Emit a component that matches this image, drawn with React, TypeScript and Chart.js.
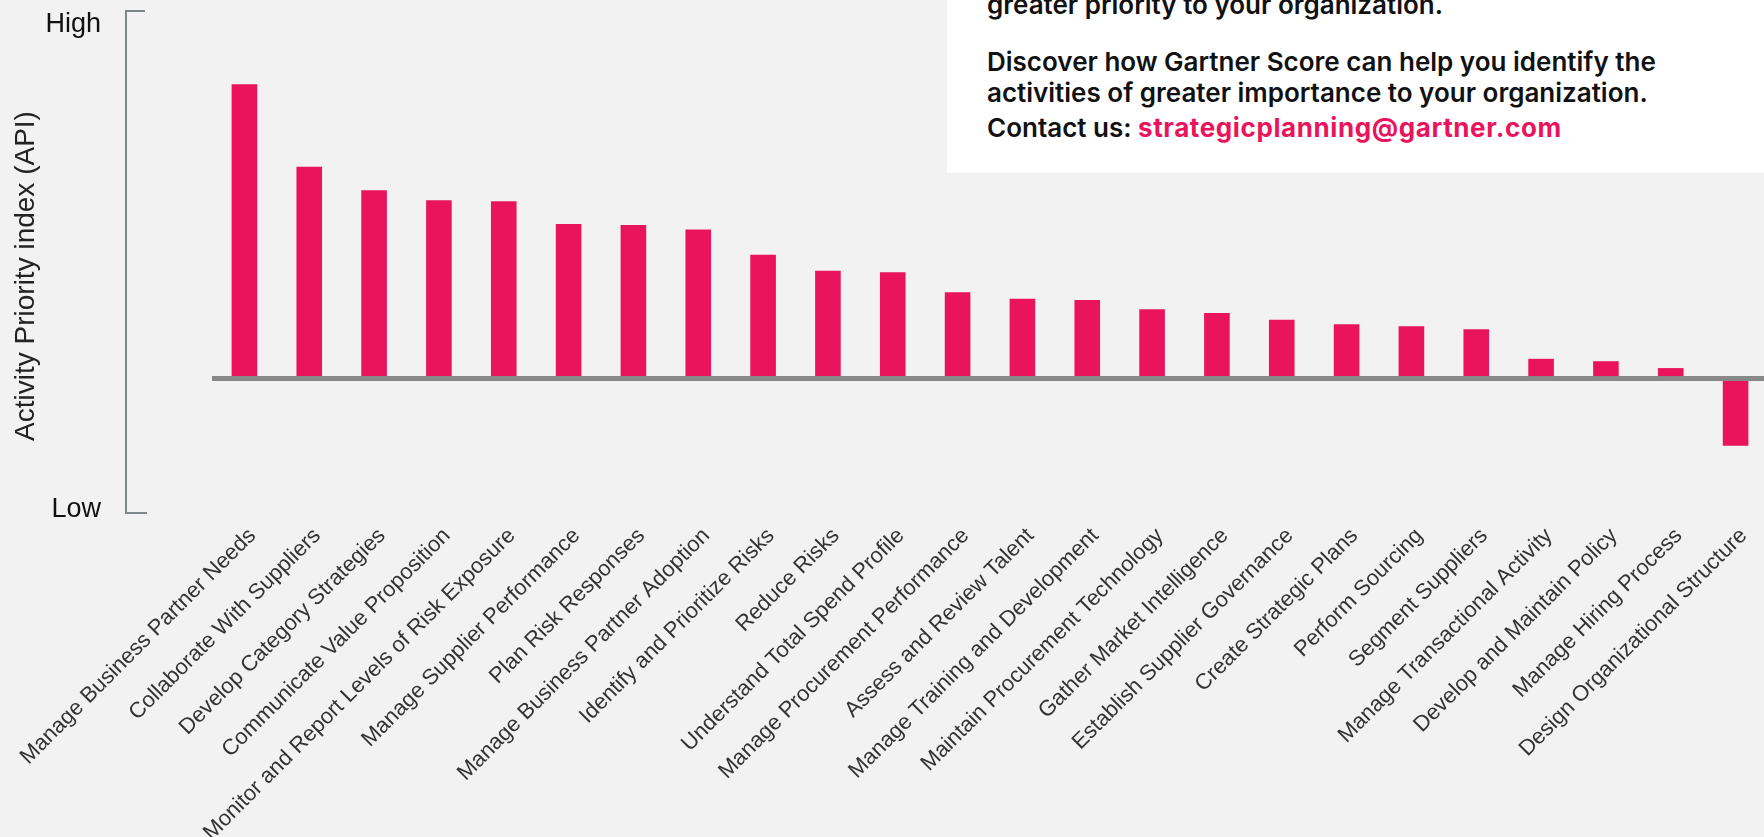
import React, { useEffect, useRef } from 'react';
import { Chart, registerables } from 'chart.js';

Chart.register(...registerables);

const categories: string[] = [
  'Manage Business Partner Needs',
  'Collaborate With Suppliers',
  'Develop Category Strategies',
  'Communicate Value Proposition',
  'Monitor and Report Levels of Risk Exposure',
  'Manage Supplier Performance',
  'Plan Risk Responses',
  'Manage Business Partner Adoption',
  'Identify and Prioritize Risks',
  'Reduce Risks',
  'Understand Total Spend Profile',
  'Manage Procurement Performance',
  'Assess and Review Talent',
  'Manage Training and Development',
  'Maintain Procurement Technology',
  'Gather Market Intelligence',
  'Establish Supplier Governance',
  'Create Strategic Plans',
  'Perform Sourcing',
  'Segment Suppliers',
  'Manage Transactional Activity',
  'Develop and Maintain Policy',
  'Manage Hiring Process',
  'Design Organizational Structure',
];

const apiValues: number[] = [
  98.5, 70.9, 63.0, 59.7, 59.3, 51.7, 51.4, 49.9, 41.4, 36.1, 35.6, 28.9,
  26.7, 26.3, 23.2, 21.9, 19.7, 18.2, 17.5, 16.5, 6.6, 5.8, 3.5, -22.5,
];

const yTickValues: number[] = [-44, 0, 118.5];
const yTickLabels: string[] = ['Low', '', 'High'];
const yMin = -45;
const yMax = 123;
const yTitle = 'Activity Priority index (API)';

const PINK = '#e9145b';
const LABEL_FONT = '"Liberation Sans", Arial, Helvetica, sans-serif';

const bracketPlugin = {
  id: 'bracketAndTitle',
  afterDraw(chart: any) {
    const { ctx, chartArea } = chart;
    const top = chartArea.top;
    const bottom = chartArea.bottom;
    ctx.save();
    ctx.strokeStyle = '#7d8787';
    ctx.lineWidth = 2;
    ctx.beginPath();
    ctx.moveTo(145, top);
    ctx.lineTo(126, top);
    ctx.lineTo(126, bottom);
    ctx.lineTo(147, bottom);
    ctx.stroke();
    ctx.translate(26, 276);
    ctx.rotate(-Math.PI / 2);
    ctx.font = '28px ' + LABEL_FONT;
    ctx.fillStyle = '#222';
    ctx.textAlign = 'center';
    ctx.textBaseline = 'middle';
    ctx.fillText(yTitle, 0, 0);
    ctx.restore();
  },
};

function ApiChart() {
  const canvasRef = useRef<HTMLCanvasElement | null>(null);

  useEffect(() => {
    if (!canvasRef.current) return;
    const chart = new Chart(canvasRef.current, {
      type: 'bar',
      data: {
        labels: categories,
        datasets: [
          {
            data: apiValues,
            backgroundColor: PINK,
            borderWidth: 0,
            barPercentage: 0.395,
            categoryPercentage: 1,
          },
        ],
      },
      options: {
        animation: false,
        responsive: false,
        devicePixelRatio: 1,
        layout: { padding: { top: 11, left: 0, right: 0, bottom: 0 } },
        plugins: {
          legend: { display: false },
          tooltip: { enabled: false },
          title: { display: false },
        },
        scales: {
          x: {
            offset: true,
            grid: { display: false, drawTicks: false },
            border: { display: false },
            ticks: {
              autoSkip: false,
              maxRotation: 45,
              minRotation: 45,
              padding: 10,
              labelOffset: 8,
              color: '#333',
              font: { family: LABEL_FONT, size: 22 },
            },
            afterFit: (s: any) => {
              s.height = 324;
              s.paddingLeft = 0;
              s.paddingRight = 0;
            },
          },
          y: {
            min: yMin,
            max: yMax,
            z: 1,
            afterBuildTicks: (s: any) => {
              s.ticks = yTickValues.map((v) => ({ value: v }));
            },
            afterFit: (s: any) => {
              s.width = 212;
              s.paddingTop = 0;
              s.paddingBottom = 0;
            },
            grid: {
              drawTicks: false,
              color: (c: any) => (c.tick && c.tick.value === 0 ? '#888888' : 'rgba(0,0,0,0)'),
              lineWidth: (c: any) => (c.tick && c.tick.value === 0 ? 5 : 0),
            },
            border: { display: false },
            ticks: {
              padding: 111,
              color: '#111',
              font: { family: LABEL_FONT, size: 27 },
              callback: (_v: any, i: number) => yTickLabels[i],
            },
            title: { display: false },
          },
        },
      },
      plugins: [bracketPlugin],
    });
    return () => chart.destroy();
  }, []);

  return (
    <canvas
      ref={canvasRef}
      width={1768}
      height={837}
      style={{ position: 'absolute', left: 0, top: 0, width: 1768, height: 837, display: 'block' }}
    />
  );
}

const textStyle: React.CSSProperties = {
  position: 'absolute',
  left: 987,
  fontFamily: 'Inter, "Noto Sans", sans-serif',
  fontWeight: 600,
  fontSize: 26,
  lineHeight: '31px',
  color: '#111',
  whiteSpace: 'nowrap',
};

export default function App() {
  return (
    <div
      style={{
        position: 'fixed',
        left: 0,
        top: 0,
        width: 1764,
        height: 837,
        overflow: 'hidden',
        background: '#f2f2f2',
      }}
    >
      <ApiChart />
      <div style={{ position: 'absolute', left: 947, top: 0, width: 817, height: 173, background: '#ffffff' }} />
      <div style={{ ...textStyle, top: -11 }}>greater priority to your organization.</div>
      <div style={{ ...textStyle, top: 46 }}>
        Discover how Gartner Score can help you identify the
        <br />
        activities of greater importance to your organization.
      </div>
      <div style={{ ...textStyle, top: 112 }}>
        Contact us:{' '}
        <span style={{ color: PINK, fontWeight: 700, letterSpacing: '0.6px' }}>strategicplanning@gartner.com</span>
      </div>
    </div>
  );
}
